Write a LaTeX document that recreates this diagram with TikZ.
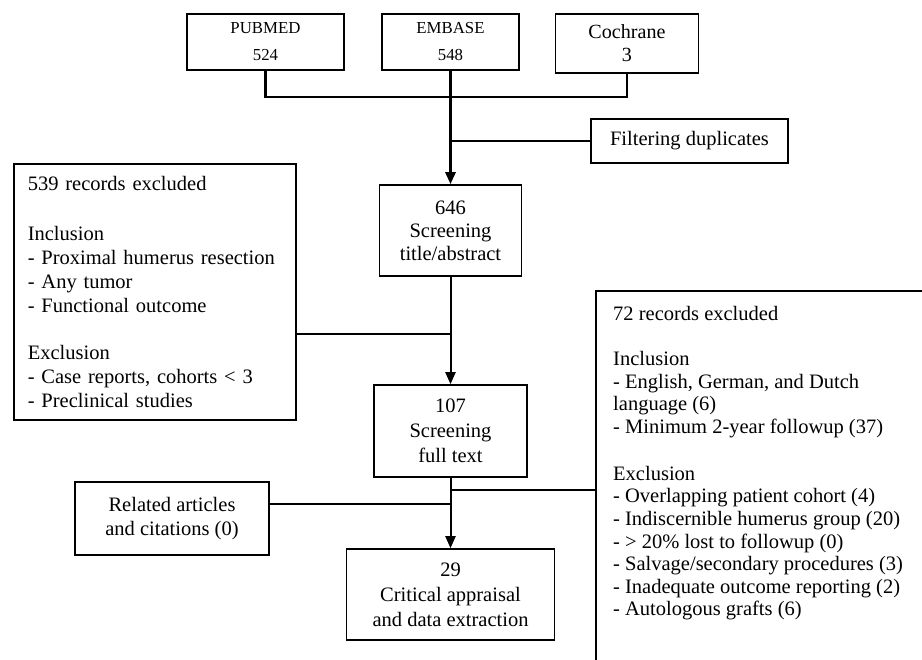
\documentclass[tikz,border=0pt]{standalone}
\usepackage{fontspec}
\setmainfont{Liberation Serif}
\usetikzlibrary{arrows.meta}
\begin{document}
\begin{tikzpicture}[x=1pt,y=-1pt,
  box/.style={draw, line width=1.6pt, inner sep=0pt, align=center,
    font=\fontsize{20.5}{24}\selectfont},
  heavy/.style={line width=2.8pt},
  medline/.style={line width=2pt},
  thinconn/.style={line width=1.1pt},
  arr/.style={-{Triangle[length=12pt,width=10pt]}}
]
\useasboundingbox (0,0) rectangle (922,660);
\fill[white] (0,0) rectangle (922,660);
\clip (0,0) rectangle (922,660);

% source boxes
\node[box, minimum width=157, minimum height=56,
  font=\fontsize{16.8}{27}\selectfont] (pub) at (265.5,42) {PUBMED\\524};
\node[box, minimum width=137, minimum height=56,
  font=\fontsize{16.8}{27}\selectfont] (emb) at (450.5,42) {EMBASE\\548};
\node[box, minimum width=143, minimum height=59,
  font=\fontsize{20.1}{23}\selectfont] (coch) at (627,43.5) {Cochrane\\3};

\node[box, minimum width=197, minimum height=44] (filt) at (689.5,141) {Filtering duplicates};

% main column
\node[box, minimum width=142, minimum height=91,
  font=\fontsize{20.5}{23}\selectfont] (s646) at (450.5,230.5) {646\\Screening\\title/abstract};
\node[box, minimum width=153, minimum height=92,
  font=\fontsize{20.5}{25}\selectfont] (s107) at (450.5,431) {107\\Screening\\full text};
\node[box, minimum width=208, minimum height=91,
  font=\fontsize{20.5}{25}\selectfont] (s29) at (450.5,594.5) {29\\Critical appraisal\\and data extraction};

% left exclusion box
\node[box, anchor=north west, minimum width=282, minimum height=256,
  align=left, text width=254] (lbox) at (13,163)
  {539 records excluded\\[26pt]Inclusion\\- Proximal humerus resection\\- Any tumor\\- Functional outcome\\[23pt]Exclusion\\- Case reports, cohorts < 3\\- Preclinical studies};

% related articles
\node[box, minimum width=194, minimum height=73] (rel) at (172,518.5) {Related articles\\and citations (0)};

% right exclusion box (continues beyond the picture)
\node[draw, line width=1.6pt, anchor=north west, minimum width=420, minimum height=460,
  inner sep=0pt] (rbox) at (595,290) {};
\node[anchor=north west, inner sep=0pt, align=left,
  font=\fontsize{20.5}{22.6}\selectfont] (rtext) at (613,306)
  {72 records excluded\\[22.4pt]Inclusion\\- English, German, and Dutch\\language (6)\\- Minimum 2-year followup (37)\\[24.4pt]Exclusion\\- Overlapping patient cohort (4)\\- Indiscernible humerus group (20)\\- > 20\% lost to followup (0)\\- Salvage/secondary procedures (3)\\- Inadequate outcome reporting (2)\\- Autologous grafts (6)};

% connectors
\draw[heavy] (pub.south) -- (pub.south |- 0,97) -- (coch.south |- 0,97) -- (coch.south);
\draw[heavy, arr] (emb.south) -- (s646.north);
\draw[thinconn] (filt.west) -- (emb.south |- filt.west);
\draw[medline, arr] (s646.south) -- (s107.north);
\draw[thinconn] (lbox.east |- 0,334) -- (s646.south |- 0,334);
\draw[medline, arr] (s107.south) -- (s29.north);
\draw[thinconn] (s107.south |- 0,490) -- (rbox.west |- 0,490);
\draw[thinconn] (rel.east |- 0,504) -- (s107.south |- 0,504);
\end{tikzpicture}
\end{document}
